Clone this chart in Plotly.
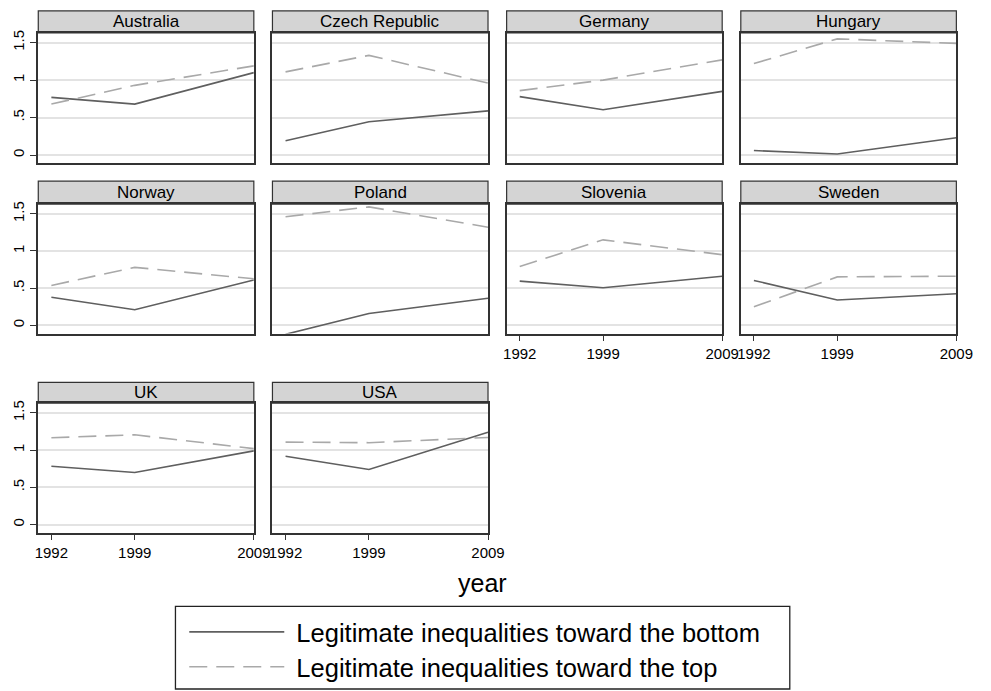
import plotly.graph_objects as go

# Survey waves and countries
years = [1992, 1999, 2009]
countries = ["Australia", "Czech Republic", "Germany", "Hungary",
             "Norway", "Poland", "Slovenia", "Sweden", "UK", "USA"]

# Legitimate inequalities toward the bottom, per country (1992, 1999, 2009)
bottom_values = [
    [0.77, 0.68, 1.10],
    [0.19, 0.445, 0.59],
    [0.78, 0.605, 0.85],
    [0.06, 0.015, 0.23],
    [0.377, 0.21, 0.61],
    [-0.12, 0.16, 0.364],
    [0.595, 0.506, 0.66],
    [0.604, 0.342, 0.426],
    [0.783, 0.70, 0.99],
    [0.917, 0.74, 1.24],
]

# Legitimate inequalities toward the top, per country (1992, 1999, 2009)
top_values = [
    [0.68, 0.93, 1.19],
    [1.11, 1.33, 0.96],
    [0.86, 1.00, 1.27],
    [1.22, 1.55, 1.49],
    [0.537, 0.78, 0.626],
    [1.46, 1.593, 1.32],
    [0.79, 1.15, 0.95],
    [0.249, 0.652, 0.661],
    [1.166, 1.206, 1.02],
    [1.108, 1.10, 1.17],
]

series_names = ["Legitimate inequalities toward the bottom",
                "Legitimate inequalities toward the top"]

y_tickvals = [0, 0.5, 1, 1.5]
y_ticktext = ["0", ".5", "1", "1.5"]

W, H = 991, 691
FONT = "Liberation Sans, Arial, sans-serif"

# panel grid in pixels
col_x = [(36, 256), (275, 495), (514, 734), (753, 973)]
row_y = [(8, 30, 161), (179, 202, 332), (381, 402, 532)]  # header top, plot top, plot bottom


def px_x(v):
    return v / W


def px_y(v):
    return 1 - v / H


fig = go.Figure()
layout = dict(
    width=W, height=H,
    margin=dict(l=0, r=0, t=0, b=0),
    paper_bgcolor="white", plot_bgcolor="white",
    font=dict(family=FONT, color="black"),
    showlegend=True,
)
shapes = []
annotations = []

n = len(countries)
for i, name in enumerate(countries):
    r, c = divmod(i, 4)
    x0, x1 = col_x[c]
    ht, pt, pb = row_y[r]
    k = "" if i == 0 else str(i + 1)
    # bottom-most panel in its column gets x tick labels
    show_x = i + 4 >= n
    show_y = c == 0

    layout["xaxis" + k] = dict(
        domain=[px_x(x0), px_x(x1)], anchor="y" + k,
        range=[1990.9, 2009.0],
        tickvals=years if show_x else [],
        ticktext=[str(y) for y in years] if show_x else [],
        ticks="outside" if show_x else "", ticklen=6, tickwidth=1.2, tickcolor="#333333",
        tickfont=dict(size=15, family=FONT, color="black"),
        showgrid=False, zeroline=False,
        showline=True, mirror=True, linecolor="#333333", linewidth=1.6,
        fixedrange=True,
    )
    layout["yaxis" + k] = dict(
        domain=[px_y(pb), px_y(pt)], anchor="x" + k,
        range=[-0.11, 1.63],
        tickvals=y_tickvals,
        ticktext=y_ticktext if show_y else [""] * 4,
        ticks="outside" if show_y else "", ticklen=6, tickwidth=1.2, tickcolor="#333333",
        tickangle=-90,
        tickfont=dict(size=15, family=FONT, color="black"),
        showgrid=True, gridcolor="#e3e3e3", gridwidth=1.5,
        zeroline=False,
        showline=True, mirror=True, linecolor="#333333", linewidth=1.6,
        fixedrange=True,
    )

    fig.add_trace(go.Scatter(
        x=years, y=bottom_values[i], mode="lines",
        line=dict(color="#5f5f5f", width=1.6),
        name="\u00a0" + series_names[0], legendgroup="bottom", legend="legend",
        showlegend=(i == 0),
        xaxis="x" + k, yaxis="y" + k,
    ))
    fig.add_trace(go.Scatter(
        x=years, y=top_values[i], mode="lines",
        line=dict(color="#a9a9a9", width=1.6, dash="18px,9px"),
        name="\u00a0" + series_names[1], legendgroup="top", legend="legend2",
        showlegend=(i == 0),
        xaxis="x" + k, yaxis="y" + k,
    ))

    # strip header with the country name
    shapes.append(dict(
        type="rect", xref="paper", yref="paper",
        x0=px_x(x0), x1=px_x(x1), y0=px_y(pt), y1=px_y(ht),
        fillcolor="#d4d4d4", line=dict(color="#333333", width=1.2),
        layer="below",
    ))
    annotations.append(dict(
        x=px_x((x0 + x1) / 2), y=px_y((ht + pt) / 2),
        xref="paper", yref="paper", text=name, showarrow=False,
        xanchor="center", yanchor="middle",
        font=dict(size=17, family=FONT, color="black"),
    ))

# x axis title
annotations.append(dict(
    x=px_x(489), y=px_y(583), xref="paper", yref="paper", text="year",
    showarrow=False, xanchor="center", yanchor="middle",
    font=dict(size=25, family=FONT, color="black"),
))

# legend frame
shapes.append(dict(
    type="rect", xref="paper", yref="paper",
    x0=px_x(176), x1=px_x(803), y0=px_y(689), y1=px_y(606),
    fillcolor="rgba(0,0,0,0)", line=dict(color="#222222", width=1.3),
))

leg_common = dict(
    xanchor="left", yanchor="middle", bgcolor="rgba(0,0,0,0)",
    borderwidth=0, itemwidth=95,
    font=dict(size=25.5, family=FONT, color="black"),
    itemclick=False, itemdoubleclick=False,
)
layout["legend"] = dict(x=px_x(185), y=px_y(632), **leg_common)
layout["legend2"] = dict(x=px_x(185), y=px_y(667), **leg_common)

layout["shapes"] = shapes
layout["annotations"] = annotations
fig.update_layout(**layout)

fig.write_html("out.html", config={"displayModeBar": False})
